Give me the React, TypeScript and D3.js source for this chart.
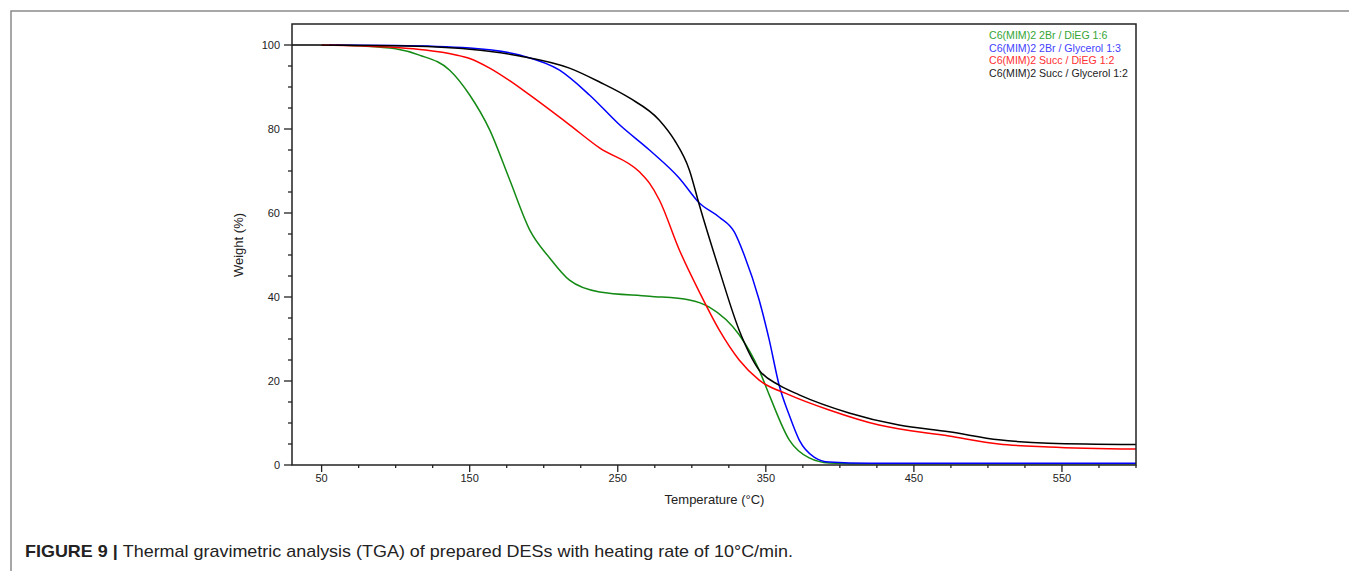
import React from "react";
import * as d3 from "d3";

const seriesNames = [
  "C6(MIM)2 2Br / DiEG 1:6",
  "C6(MIM)2 2Br / Glycerol 1:3",
  "C6(MIM)2 Succ / DiEG 1:2",
  "C6(MIM)2 Succ / Glycerol 1:2",
];
const lineColors = ["#138a13", "#0000ff", "#ff0000", "#000000"];
const legendColors = ["#35a535", "#4343ff", "#ff3030", "#222222"];

const greenT = [60, 76, 100, 116, 136.5, 150, 163.5, 177, 190.5, 204, 217.4, 237.7, 271.4, 298.4, 311.8, 332, 345.5, 352.3, 365.8, 379.3, 392.8, 420, 600];
const greenW = [100, 99.8, 99.1, 97.6, 94, 88.1, 79.8, 67.9, 56, 49.3, 44, 41.2, 40.2, 39.3, 37.6, 31, 22.6, 16.7, 6, 1.7, 0.5, 0.3, 0.3];

const blueT = [55, 100, 150, 183.7, 210.7, 230.9, 251.2, 271.4, 291.6, 305.1, 318.6, 328.7, 335.4, 345.5, 352.3, 359, 365.8, 372.5, 382.6, 392.8, 420, 600];
const blueW = [100, 99.9, 99.3, 97.6, 94, 88.1, 81, 75, 68.3, 62.4, 59, 55.5, 50, 39.3, 29.8, 19, 11.9, 6, 1.9, 0.7, 0.4, 0.4];

const redT = [50, 100, 120, 140, 150, 163.5, 177, 190.5, 217.4, 237.7, 264.6, 271.4, 278.1, 291.6, 305.1, 318.6, 332, 345.5, 365.8, 392.8, 426.5, 473.7, 507.4, 541, 600];
const redW = [100, 99.4, 98.8, 97.7, 96.8, 94.5, 91.5, 88.1, 81, 75.5, 69.8, 67.1, 63.1, 51.2, 41.2, 32.1, 25, 20.2, 16.7, 13.1, 9.5, 6.9, 5, 4.3, 3.8];

const blackT = [30, 100, 150, 183.7, 217.4, 237.7, 257.9, 278.1, 288.2, 298.4, 305.1, 318.6, 332, 345.5, 359, 372.5, 406.2, 439.9, 473.7, 507.4, 541, 600];
const blackW = [100, 99.8, 99, 97.4, 94.5, 91.2, 87.4, 82.1, 77.4, 70.2, 61.9, 46.4, 32.1, 22.6, 19, 16.7, 12.4, 9.5, 7.9, 6, 5.2, 4.9];

const xTickLabels = [50, 150, 250, 350, 450, 550];
const yTickLabels = [0, 20, 40, 60, 80, 100];

const temps = [greenT, blueT, redT, blackT];
const weights = [greenW, blueW, redW, blackW];

const W = 1349;
const H = 571;
const left = 292;
const right = 1136;
const top = 24;
const bottom = 465;

export default function App() {
  const x = d3.scaleLinear().domain([30, 600]).range([left, right]);
  const y = d3.scaleLinear().domain([0, 105]).range([bottom, top]);
  const line = d3
    .line<[number, number]>()
    .x((d) => x(d[0]))
    .y((d) => y(d[1]))
    .curve(d3.curveMonotoneX);

  const xMinor = d3.range(50, 601, 25);
  const yMinor = d3.range(0, 101, 5);
  const font = "Arial, 'Liberation Sans', sans-serif";

  return (
    <svg
      width={W}
      height={H}
      style={{ position: "absolute", left: 0, top: 0, background: "#fff" }}
      fontFamily={font}
    >
      <rect x={11} y={11} width={1400} height={700} fill="none" stroke="#8a8a8a" strokeWidth={1.5} />
      {temps.map((ts, i) => (
        <path
          key={i}
          d={line(ts.map((t, j) => [t, weights[i][j]] as [number, number])) || ""}
          fill="none"
          stroke={lineColors[i]}
          strokeWidth={1.5}
        />
      ))}
      <rect x={left} y={top} width={right - left} height={bottom - top} fill="none" stroke="#222" strokeWidth={1.5} />
      {xMinor.map((t) => {
        const major = xTickLabels.includes(t);
        return (
          <line key={"xt" + t} x1={x(t)} x2={x(t)} y1={bottom} y2={bottom + (major ? 7 : 3)} stroke="#222" strokeWidth={1.3} />
        );
      })}
      {xTickLabels.map((t) => (
        <text key={"xl" + t} x={x(t)} y={482} textAnchor="middle" fontSize={11} fill="#222">
          {t}
        </text>
      ))}
      {yMinor.map((v) => {
        const major = yTickLabels.includes(v);
        return (
          <line key={"yt" + v} x1={left} x2={left - (major ? 8 : 4)} y1={y(v)} y2={y(v)} stroke="#222" strokeWidth={1.3} />
        );
      })}
      {yTickLabels.map((v) => (
        <text key={"yl" + v} x={280} y={y(v) + 4} textAnchor="end" fontSize={11} fill="#222">
          {v}
        </text>
      ))}
      <text x={714.5} y={504} textAnchor="middle" fontSize={13} fill="#222">
        Temperature (°C)
      </text>
      <text transform="translate(243,245) rotate(-90)" textAnchor="middle" fontSize={13} fill="#222">
        Weight (%)
      </text>
      {seriesNames.map((n, i) => (
        <text key={n} x={989} y={39 + i * 12.5} fontSize={10.6} fill={legendColors[i]}>
          {n}
        </text>
      ))}
      <text x={25} y={557} fontSize={17} fill="#222" textLength={768} lengthAdjust="spacingAndGlyphs">
        <tspan fontWeight="bold">FIGURE 9 | </tspan>
        <tspan>Thermal gravimetric analysis (TGA) of prepared DESs with heating rate of 10°C/min.</tspan>
      </text>
    </svg>
  );
}
